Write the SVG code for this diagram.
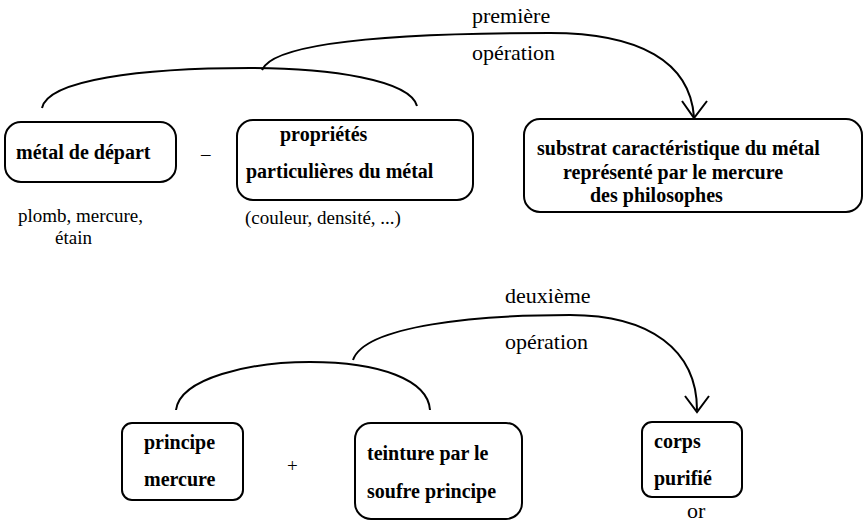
<svg xmlns="http://www.w3.org/2000/svg" width="864" height="523" viewBox="0 0 864 523">
<style>
.box{fill:#fff;stroke:#000;stroke-width:2}
text{font-family:'Liberation Serif','DejaVu Serif',serif;fill:#000}
.b{font-weight:bold;font-size:20px}
.r{font-size:19px}
.op{font-size:22px}
.c{fill:none;stroke:#000;stroke-width:2}
</style>
<rect width="864" height="523" fill="#fff"/>
<g id="connectors">
<path class="c" d="M42,108 C48,80 140,68 250,68 C330,68 410,80 417,106"/>
<path class="c" d="M262,70 C275,38 430,33 550,33 C640,33 690,62 694,117"/>
<polyline class="c" points="682,101 694,118 707,101"/>
<path class="c" d="M176,410 C180,378 250,362 310,362 C380,362 428,380 430,410"/>
<path class="c" d="M353,360 C365,325 480,315 570,315 C650,315 697,350 697,410"/>
<polyline class="c" points="685,396 697,412 709,396"/>
</g>
<g font-family="Liberation Serif, serif">
<g id="label-premiere">
<text class="op" x="472" y="23">première</text>
<text class="op" x="472" y="60">opération</text>
</g>
<g id="label-deuxieme">
<text class="op" x="505" y="303">deuxième</text>
<text class="op" x="505" y="349">opération</text>
</g>
<g id="n-metal">
<rect class="box" x="5" y="122" width="171" height="60" rx="16"/>
<text class="b" x="16" y="159">métal de départ</text>
</g>
<text class="r" x="201" y="160">–</text>
<g id="n-proprietes">
<rect class="box" x="237" y="120" width="236" height="80" rx="16"/>
<text class="b" x="280" y="141">propriétés</text>
<text class="b" x="246" y="178">particulières du métal</text>
</g>
<g id="n-substrat">
<rect class="box" x="524" y="119" width="338" height="93" rx="16"/>
<text class="b" x="537" y="155">substrat caractéristique du métal</text>
<text class="b" x="563" y="179">représenté par le mercure</text>
<text class="b" x="590" y="202">des philosophes</text>
</g>
<text class="r" x="18" y="222">plomb, mercure,</text>
<text class="r" x="55" y="244">étain</text>
<text class="r" x="245" y="224">(couleur, densité, ...)</text>
<g id="n-principe">
<rect class="box" x="122" y="423" width="121" height="77" rx="10"/>
<text class="b" x="144" y="449">principe</text>
<text class="b" x="144" y="486">mercure</text>
</g>
<text class="r" x="287" y="472">+</text>
<g id="n-teinture">
<rect class="box" x="355" y="423" width="167" height="96" rx="16"/>
<text class="b" x="367" y="460">teinture par le</text>
<text class="b" x="367" y="498">soufre principe</text>
</g>
<g id="n-corps">
<rect class="box" x="642" y="422" width="100" height="75" rx="10"/>
<text class="b" x="654" y="448">corps</text>
<text class="b" x="654" y="485">purifié</text>
</g>
<text class="op" x="687" y="518">or</text>
</g>
</svg>
